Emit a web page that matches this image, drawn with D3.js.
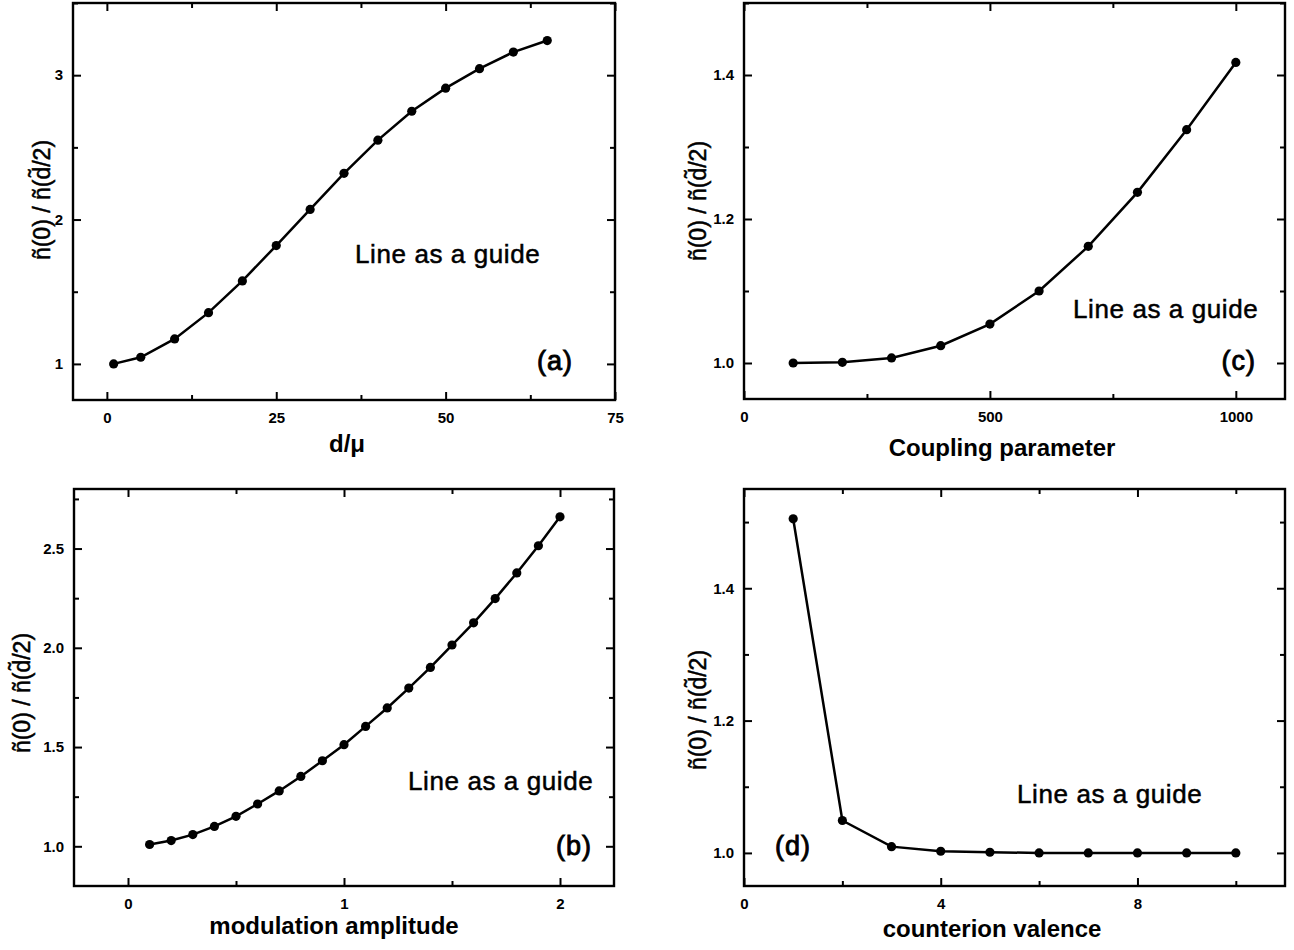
<!DOCTYPE html>
<html><head><meta charset="utf-8">
<script src="https://cdn.jsdelivr.net/npm/d3@7"></script>
<style>
body{margin:0;background:#fff;}
svg{display:block;font-family:"Liberation Sans",Arial,Helvetica,sans-serif;}
</style></head><body>
<svg id="chart" width="1294" height="950"></svg>
<script>
// (a) ratio versus d/mu
const aX = [1, 5, 10, 15, 20, 25, 30, 35, 40, 45, 50, 55, 60, 65];
const aY = [1.0, 1.046, 1.173, 1.355, 1.575, 1.82, 2.07, 2.32, 2.55, 2.75, 2.91, 3.045, 3.16, 3.24];
const aXTicks = [0, 25, 50, 75];
const aYTicks = [1, 2, 3];

// (b) ratio versus modulation amplitude
const bX = [0.1, 0.2, 0.3, 0.4, 0.5, 0.6, 0.7, 0.8, 0.9, 1.0, 1.1, 1.2, 1.3, 1.4, 1.5, 1.6, 1.7, 1.8, 1.9, 2.0];
const bY = [1.009, 1.029, 1.059, 1.10, 1.151, 1.213, 1.279, 1.352, 1.431, 1.512, 1.604, 1.697, 1.797, 1.901, 2.014, 2.126, 2.248, 2.377, 2.514, 2.66];
const bXTicks = [0, 1, 2];
const bYTicks = [1.0, 1.5, 2.0, 2.5];

// (c) ratio versus coupling parameter
const cX = [100, 200, 300, 400, 500, 600, 700, 800, 900, 1000];
const cY = [1.0, 1.001, 1.007, 1.024, 1.054, 1.10, 1.162, 1.237, 1.324, 1.4175];
const cXTicks = [0, 500, 1000];
const cYTicks = [1.0, 1.2, 1.4];

// (d) ratio versus counterion valence
const dX = [1, 2, 3, 4, 5, 6, 7, 8, 9, 10];
const dY = [1.505, 1.049, 1.0095, 1.0025, 1.001, 1.0, 1.0, 1.0, 1.0, 1.0];
const dXTicks = [0, 4, 8];
const dYTicks = [1.0, 1.2, 1.4];

const guideText = "Line as a guide";

const svg = d3.select("#chart");

const panels = [
  { x: aX, y: aY, xTicks: aXTicks, yTicks: aYTicks, xStep: 12.5, yStep: 0.5,
    box: [73, 615, 3, 400], xDom: [-5, 75], yDom: [0.75, 3.5],
    xFmt: d3.format("d"), yFmt: d3.format("d"),
    xTitle: "d/\u03bc", xTitlePos: [347, 452], yTitlePos: [50, 200],
    guide: [355, 263], tag: "(a)", tagPos: [573, 370], tagAnchor: "end" },
  { x: bX, y: bY, xTicks: bXTicks, yTicks: bYTicks, xStep: 0.5, yStep: 0.25,
    box: [74, 614, 489, 886], xDom: [-0.25, 2.25], yDom: [0.8, 2.8],
    xFmt: d3.format("d"), yFmt: d3.format(".1f"),
    xTitle: "modulation amplitude", xTitlePos: [334, 934], yTitlePos: [30, 693],
    guide: [408, 790], tag: "(b)", tagPos: [592, 855], tagAnchor: "end" },
  { x: cX, y: cY, xTicks: cXTicks, yTicks: cYTicks, xStep: 250, yStep: 0.1,
    box: [744, 1285, 3, 399], xDom: [0, 1100], yDom: [0.95, 1.5],
    xFmt: d3.format("d"), yFmt: d3.format(".1f"),
    xTitle: "Coupling parameter", xTitlePos: [1002, 456], yTitlePos: [706, 201],
    guide: [1073, 318], tag: "(c)", tagPos: [1256, 370], tagAnchor: "end" },
  { x: dX, y: dY, xTicks: dXTicks, yTicks: dYTicks, xStep: 2, yStep: 0.1,
    box: [744, 1285, 489, 886], xDom: [0, 11], yDom: [0.95, 1.55],
    xFmt: d3.format("d"), yFmt: d3.format(".1f"),
    xTitle: "counterion valence", xTitlePos: [992, 937], yTitlePos: [706, 710],
    guide: [1017, 803], tag: "(d)", tagPos: [775, 855], tagAnchor: "start" }
];

function range(dom, step) {
  const out = [];
  const start = Math.ceil(dom[0] / step - 1e-9) * step;
  for (let v = start; v <= dom[1] + 1e-9; v += step) out.push(+v.toFixed(6));
  return out;
}

// y title: n~(0) / n~(d~/2), tilde over the d drawn as a raised spacing tilde
function yTitle(sel) {
  sel.append("tspan").text("\u00f1(0) / \u00f1(d");
  sel.append("tspan").attr("dx", "-0.445em").attr("dy", "-0.2em").text("\u02dc");
  sel.append("tspan").attr("dx", "0.112em").attr("dy", "0.2em").text("/2)");
}

panels.forEach(p => {
  const [x0, x1, y0, y1] = p.box;
  const xs = d3.scaleLinear().domain(p.xDom).range([x0, x1]);
  const ys = d3.scaleLinear().domain(p.yDom).range([y1, y0]);
  const g = svg.append("g");
  const major = 8, minor = 5;
  const xMinor = range(p.xDom, p.xStep).filter(v => !p.xTicks.some(t => Math.abs(t - v) < 1e-9));
  const yMinor = range(p.yDom, p.yStep).filter(v => !p.yTicks.some(t => Math.abs(t - v) < 1e-9));

  // inward ticks on all four sides, labels on bottom and left
  const axes = [
    [() => d3.axisBottom(xs), y1, true, "x"],
    [() => d3.axisTop(xs), y0, false, "x"],
    [() => d3.axisLeft(ys), x0, true, "y"],
    [() => d3.axisRight(ys), x1, false, "y"]
  ];
  axes.forEach(([mk, pos, labeled, dim]) => {
    const tr = dim === "x" ? `translate(0,${pos})` : `translate(${pos},0)`;
    const ticks = dim === "x" ? p.xTicks : p.yTicks;
    const mins = dim === "x" ? xMinor : yMinor;
    const fmt = dim === "x" ? p.xFmt : p.yFmt;
    const gm = g.append("g").attr("transform", tr)
      .call(mk().tickValues(ticks).tickSizeInner(-major).tickSizeOuter(0)
        .tickPadding(dim === "x" ? 12 : 10).tickFormat(labeled ? fmt : () => ""));
    gm.select(".domain").remove();
    gm.selectAll("line").attr("stroke", "#000").attr("stroke-width", 2);
    gm.selectAll("text").attr("font-size", 15).attr("font-weight", "bold").attr("fill", "#000");
    const gn = g.append("g").attr("transform", tr)
      .call(mk().tickValues(mins).tickSizeInner(-minor).tickSizeOuter(0).tickFormat(() => ""));
    gn.select(".domain").remove();
    gn.selectAll("line").attr("stroke", "#000").attr("stroke-width", 2);
  });

  // frame
  g.append("rect").attr("x", x0).attr("y", y0).attr("width", x1 - x0).attr("height", y1 - y0)
    .attr("fill", "none").attr("stroke", "#000").attr("stroke-width", 2.4);

  // guide line and points
  const pts = p.x.map((v, i) => [v, p.y[i]]);
  g.append("path").datum(pts)
    .attr("d", d3.line().x(d => xs(d[0])).y(d => ys(d[1])))
    .attr("fill", "none").attr("stroke", "#000").attr("stroke-width", 2.5);
  g.selectAll("circle.pt").data(pts).join("circle").attr("class", "pt")
    .attr("cx", d => xs(d[0])).attr("cy", d => ys(d[1])).attr("r", 4.6).attr("fill", "#000");

  // axis titles
  g.append("text").attr("x", p.xTitlePos[0]).attr("y", p.xTitlePos[1])
    .attr("text-anchor", "middle").attr("font-size", 24).attr("font-weight", "bold")
    .text(p.xTitle);
  g.append("text").attr("transform", `translate(${p.yTitlePos[0]},${p.yTitlePos[1]}) rotate(-90)`)
    .attr("text-anchor", "middle").attr("font-size", 23)
    .attr("stroke", "#000").attr("stroke-width", 0.5)
    .call(yTitle);

  // annotations
  g.append("text").attr("x", p.guide[0]).attr("y", p.guide[1])
    .attr("font-size", 26).attr("letter-spacing", 0.6)
    .attr("stroke", "#000").attr("stroke-width", 0.5).text(guideText);
  g.append("text").attr("x", p.tagPos[0]).attr("y", p.tagPos[1])
    .attr("text-anchor", p.tagAnchor).attr("font-size", 27).attr("letter-spacing", 1)
    .attr("stroke", "#000").attr("stroke-width", 0.9).text(p.tag);
});
</script>
</body></html>
